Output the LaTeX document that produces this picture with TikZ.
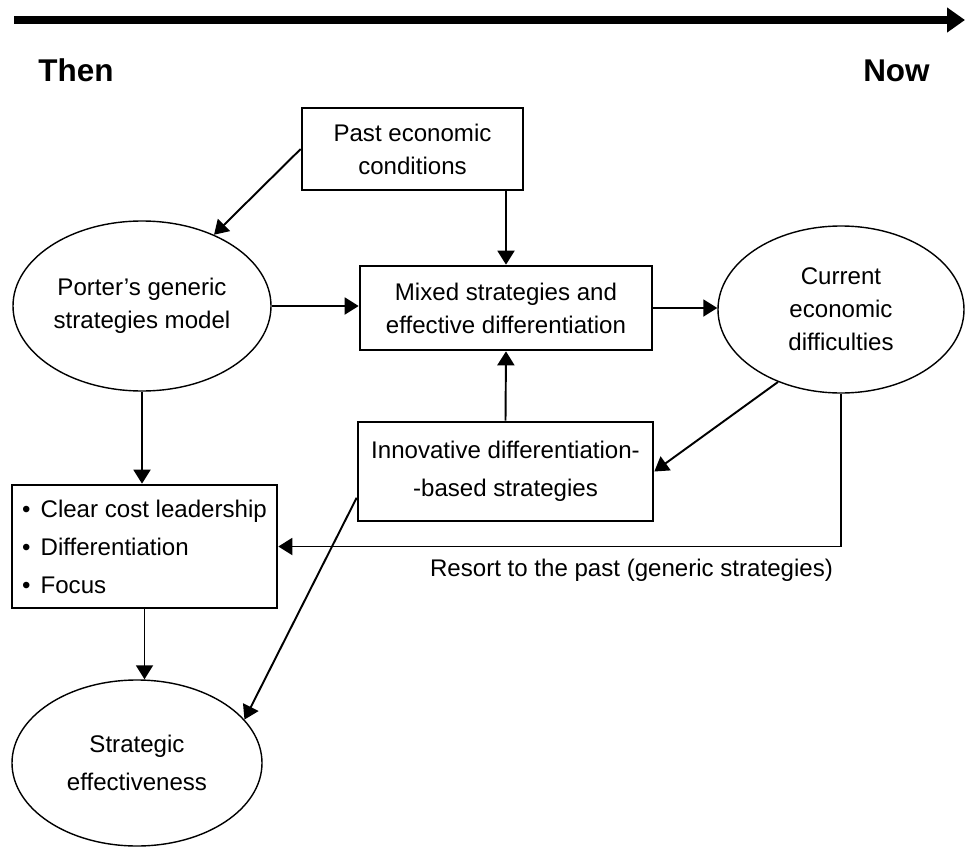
\documentclass[tikz,border=0pt]{standalone}
\usepackage{fontspec}
\setmainfont{Liberation Sans}
\usetikzlibrary{arrows.meta,shapes.geometric}

\begin{document}
\begin{tikzpicture}[
  txt/.style={font=\fontsize{13.7}{18.8}\selectfont,align=center,inner sep=2pt},
  loose/.style={font=\fontsize{13.7}{21.6}\selectfont},
  box/.style={txt,draw,line width=1.5pt},
  oval/.style={txt,draw,ellipse,line width=0.8pt,inner sep=0pt},
  era/.style={font=\fontsize{17.9}{20}\selectfont\bfseries,inner sep=0pt},
  arr/.style={-{Triangle[length=0.28cm,width=0.34cm]},line width=1.1pt},
  timeline/.style={-{Triangle[length=0.36cm,width=0.48cm]},line width=4.6pt}]
  \useasboundingbox (0,0) rectangle (19.3,-16.94);
  \coordinate (T0) at (0.28,-0.4);
  \coordinate (T1) at (19.3,-0.4);
  \node[era,anchor=base west] (TH) at (0.76,-1.62) {Then};
  \node[era,anchor=base east] (NW) at (18.6,-1.62) {Now};
  \node[box,minimum width=4.42cm,minimum height=1.64cm] (PE) at (8.25,-2.98) {Past economic\\conditions};
  \node[oval,minimum width=5.16cm,minimum height=3.4cm] (PG) at (2.84,-6.12) {Porter's generic\\strategies model};
  \node[box,minimum width=5.84cm,minimum height=1.68cm] (MS) at (10.12,-6.16) {Mixed strategies and\\effective differentiation};
  \node[oval,minimum width=4.92cm,minimum height=3.34cm] (CD) at (16.82,-6.19) {Current\\economic\\difficulties};
  \node[box,loose,minimum width=5.9cm,minimum height=1.98cm] (ID) at (10.11,-9.43) {Innovative differentiation-\\-based strategies};
  \node[box,loose,align=left,minimum width=5.3cm,minimum height=2.46cm] (GS) at (2.89,-10.93)
    {\textbullet\hspace{0.2cm}Clear cost leadership\\ \textbullet\hspace{0.2cm}Differentiation\\ \textbullet\hspace{0.2cm}Focus};
  \node[oval,loose,minimum width=5cm,minimum height=3.32cm] (SE) at (2.74,-15.26) {Strategic\\effectiveness};
  \node[txt] (RP) at (12.63,-11.4) {Resort to the past (generic strategies)};
  \draw[timeline] (T0) -- (T1);
  \draw[arr] (PE.west) -- (PG); \draw[arr] (MS.north |- PE.south) -- (MS.north);
  \draw[arr] (PG.east) -- (MS.west |- PG.east); \draw[arr] (MS.east) -- (CD.west |- MS.east);
  \draw[arr] (ID.north) -- (MS.south); \draw[arr] (CD.229) -- (ID.east);
  \draw[arr] (CD.south) |- (GS.east);
  \draw[arr] (ID.190) -- (SE.22);
  \draw[arr] (PG.south) -- (PG.south |- GS.north); \draw[arr] (GS.south) -- (GS.south |- SE.north);
\end{tikzpicture}
\end{document}
